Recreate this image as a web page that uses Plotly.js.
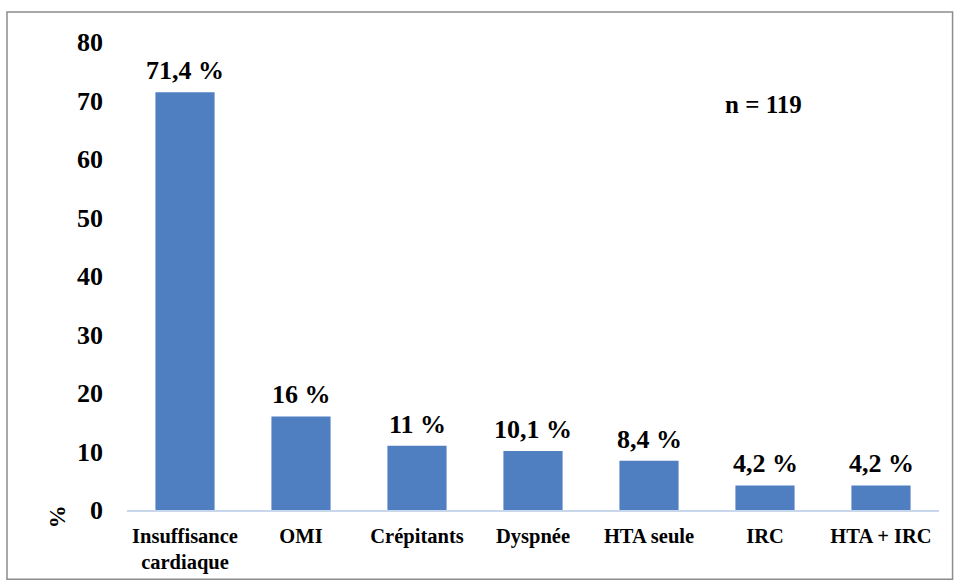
<!DOCTYPE html>
<html>
<head>
<meta charset="utf-8">
<script src="https://cdn.plot.ly/plotly-3.0.1.min.js"></script>
<style>html,body{margin:0;padding:0;background:#fff;}#chart{width:954px;height:580px;}</style>
</head>
<body>
<div id="chart"></div>
<script>
const categories = ["Insuffisance<br>cardiaque", "OMI", "Crépitants", "Dyspnée", "HTA seule", "IRC", "HTA + IRC"];
const values = [71.4, 16, 11, 10.1, 8.4, 4.2, 4.2];
const valueLabels = ["71,4 %", "16 %", "11 %", "10,1 %", "8,4 %", "4,2 %", "4,2 %"];
const yTicks = [0, 10, 20, 30, 40, 50, 60, 70, 80];

const serif = "Liberation Serif, Times New Roman, serif";

const trace = {
  type: "bar",
  x: categories,
  y: values,
  marker: {color: "#4f7fc0", line: {width: 0}},
  hoverinfo: "none"
};

const valueAnnotations = categories.map((c, i) => ({
  xref: "x", yref: "y", x: c, y: values[i], text: valueLabels[i],
  showarrow: false, xanchor: "center", yanchor: "bottom", yshift: 5,
  font: {family: serif, size: 26, color: "#000", weight: "bold"}
}));

const layout = {
  width: 954, height: 580,
  margin: {l: 127, r: 15, t: 42, b: 70},
  paper_bgcolor: "#fff", plot_bgcolor: "#fff",
  bargap: 0.49,
  showlegend: false,
  font: {family: serif, color: "#000"},
  xaxis: {
    type: "category",
    showgrid: false, zeroline: false,
    showline: true, linecolor: "#c9d7ec", linewidth: 2,
    ticks: "", ticklabelstandoff: 6,
    tickfont: {family: serif, size: 20.5, color: "#000", weight: "bold"}
  },
  yaxis: {
    range: [0, 80], tickvals: yTicks,
    showgrid: false, zeroline: false, showline: false,
    ticks: "", ticklabelstandoff: 23,
    tickfont: {family: serif, size: 26, color: "#000", weight: "bold"}
  },
  annotations: valueAnnotations.concat([
    {xref: "paper", yref: "paper", x: -0.086, y: -0.015, xanchor: "center", yanchor: "middle",
     text: "%", showarrow: false, textangle: -90,
     font: {family: serif, size: 23, color: "#000", weight: "bold"}},
    {xref: "paper", yref: "paper", x: 0.784, y: 0.8675, xanchor: "center", yanchor: "middle",
     text: "n = 119", showarrow: false,
     font: {family: serif, size: 25, color: "#000", weight: "bold"}}
  ]),
  shapes: [
    {type: "rect", xref: "paper", yref: "paper", x0: -0.1478, x1: 1.0167, y0: -0.148, y1: 1.064,
     line: {color: "#8c8c8c", width: 1.5}, fillcolor: "rgba(0,0,0,0)"}
  ]
};

Plotly.newPlot("chart", [trace], layout, {displayModeBar: false, staticPlot: true});
</script>
</body>
</html>
